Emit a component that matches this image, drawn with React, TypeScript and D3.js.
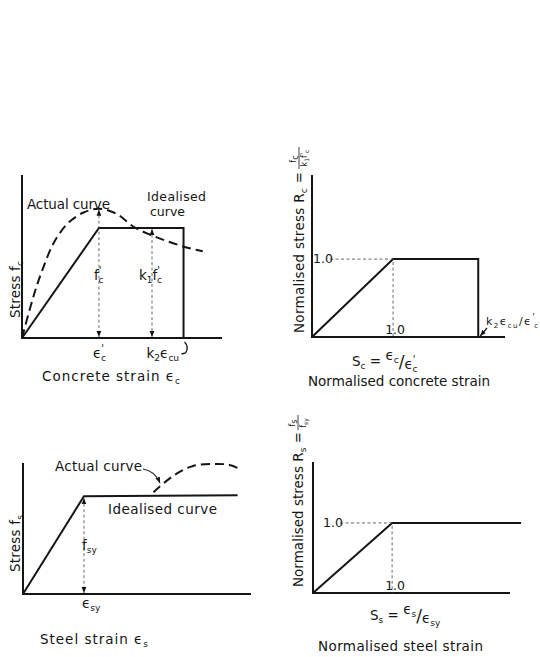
import * as d3 from 'd3'
import React from 'react'

// concrete: strain in units of eps'c, stress in units of f'c
const concreteActual: [number, number][] = [
  [0, 0], [0.1, 0.22], [0.19, 0.4], [0.28, 0.55], [0.39, 0.71], [0.49, 0.81], [0.62, 0.9],
  [0.8, 0.97], [1, 1], [1.23, 0.96], [1.45, 0.86], [1.66, 0.8], [1.88, 0.75], [2.14, 0.7], [2.35, 0.67],
]
const concreteIdeal: [number, number][] = [[0, 0], [1, 0.85], [2.1, 0.85], [2.1, 0]]
const concreteGuides = [{ x: 1, y: 1 }, { x: 1.69, y: 0.85 }]

// normalised concrete
const normConcrete: [number, number][] = [[0, 0], [1, 1], [2.05, 1], [2.05, 0]]

// steel: strain in units of eps_sy, stress in units of f_sy
const steelIdeal: [number, number][] = [[0, 0], [1, 1], [3.52, 1.01]]
const steelActual: [number, number][] = [
  [2.14, 1.04], [2.36, 1.16], [2.57, 1.25], [2.79, 1.31], [3.12, 1.33], [3.39, 1.32], [3.58, 1.27],
]

// normalised steel
const normSteel: [number, number][] = [[0, 0], [1, 1], [2.63, 1]]

const unitTick = 1
const unitLabel = '1.0'

const FONT = "'DejaVu Sans', sans-serif"
const INK = '#151515'

const cx = d3.scaleLinear().domain([0, 2.6]).range([22, 222])
const cy = d3.scaleLinear().domain([0, 1.26]).range([338, 175])
const sx = d3.scaleLinear().domain([0, 2.38]).range([312, 505])
const sy = d3.scaleLinear().domain([0, 2.08]).range([337, 175])
const tx = d3.scaleLinear().domain([0, 3.74]).range([23, 251])
const ty = d3.scaleLinear().domain([0, 1.34]).range([594, 463])
const nx = d3.scaleLinear().domain([0, 2.49]).range([313, 510])
const ny = d3.scaleLinear().domain([0, 1.87]).range([593, 462])

type Scale = d3.ScaleLinear<number, number>

const mkLine = (x: Scale, y: Scale, curve = d3.curveLinear) =>
  d3.line<[number, number]>().x((d) => x(d[0])).y((d) => y(d[1])).curve(curve)

const axes = (x: Scale, y: Scale) => {
  const [x0, x1] = x.domain()
  const [y0, y1] = y.domain()
  return `M${x(x0)},${y(y1)}V${y(y0)}H${x(x1)}`
}

const Sub = ({ children }: { children: React.ReactNode }) => (
  <tspan fontSize={9} dy={3}>{children}</tspan>
)
// raised prime followed by a subscript tucked under it
const PrimeSub = ({ s, up = 6 }: { s: string; up?: number }) => (
  <>
    <tspan fontSize={10} dy={-up}>'</tspan>
    <tspan fontSize={9} dx={-3} dy={up + 3}>{s}</tspan>
  </>
)

const App = () => {
  const solid = { fill: 'none', stroke: INK, strokeWidth: 2, strokeLinejoin: 'miter' as const }
  const dashed = { fill: 'none', stroke: INK, strokeWidth: 2, strokeDasharray: '9,5' }
  const guide = { fill: 'none', stroke: '#444', strokeWidth: 0.8, strokeDasharray: '3,2.5' }
  const fit = (n: number) => ({ textLength: n, lengthAdjust: 'spacing' as const })

  return (
    <svg
      width={540}
      height={657}
      style={{ position: 'absolute', left: 0, top: 0, background: '#fff' }}
      fontFamily={FONT}
      fontSize={13.5}
      fill={INK}
    >
      <defs>
        <marker id="ah" viewBox="0 0 10 10" refX={10} refY={5} markerWidth={6} markerHeight={6}
          markerUnits="userSpaceOnUse" orient="auto-start-reverse">
          <path d="M0,1L10,5L0,9z" fill={INK} />
        </marker>
      </defs>

      {/* ---------- concrete ---------- */}
      <path d={axes(cx, cy)} {...solid} />
      <path d={mkLine(cx, cy)(concreteIdeal)!} {...solid} />
      <path d={mkLine(cx, cy, d3.curveCatmullRom)(concreteActual)!} {...dashed} />
      {concreteGuides.map((g, i) => (
        <line key={i} x1={cx(g.x)} x2={cx(g.x)} y1={cy(g.y) + 1} y2={cy(0) - 1} {...guide}
          markerStart="url(#ah)" markerEnd="url(#ah)" />
      ))}
      <text x={27} y={209} {...fit(83)}>Actual curve</text>
      <text x={147} y={201} fontSize={12.5} {...fit(59)}>Idealised</text>
      <text x={150} y={216} fontSize={12.5} {...fit(35)}>curve</text>
      <text x={cx(1) - 5} y={cy(0.45)}>f<PrimeSub s="c" /></text>
      <text x={cx(1.69) - 13} y={cy(0.45)}>k<tspan fontSize={9} dy={3}>1</tspan><tspan dy={-3}>f</tspan><PrimeSub s="c" /></text>
      <text x={cx(unitTick) - 6} y={358}>ϵ<PrimeSub s="c" /></text>
      <text x={cx(2.1) - 37} y={358}>k<tspan fontSize={9} dy={3}>2</tspan><tspan dy={-3}>ϵ</tspan><Sub>cu</Sub></text>
      <path d={`M${cx(2.1) + 1},${cy(0) + 4}q5,5 1,11l-4,1`} fill="none" stroke={INK} strokeWidth={1.3} />
      <text x={42} y={381} {...fit(138)}>Concrete strain ϵ<Sub>c</Sub></text>
      <text transform="translate(20,318) rotate(-90)" {...fit(57)}>Stress f<Sub>c</Sub></text>

      {/* ---------- normalised concrete ---------- */}
      <path d={axes(sx, sy)} {...solid} />
      <path d={mkLine(sx, sy)(normConcrete)!} {...solid} />
      <path d={`M${sx(0) + 18},${sy(1)}H${sx(1)}V${sy(0)}`} {...guide} />
      <text x={sx(0) + 1} y={sy(unitTick) + 4} fontSize={12.5}>{unitLabel}</text>
      <text x={sx(unitTick) + 2} y={sy(0) - 3} fontSize={12.5} textAnchor="middle">{unitLabel}</text>
      <line x1={487} y1={328} x2={sx(2.05) + 2} y2={sy(0) - 1} stroke={INK} strokeWidth={1.2} markerEnd="url(#ah)" />
      <text x={486} y={325} fontSize={11} {...fit(52)}>k<tspan fontSize={7} dy={3}>2</tspan><tspan dy={-3}>ϵ</tspan><tspan fontSize={7} dy={3}>cu</tspan><tspan dy={-3}>/ϵ</tspan><tspan fontSize={9} dy={-5}>'</tspan><tspan fontSize={7} dx={-2} dy={8}>c</tspan></text>
      <text x={352} y={366}>S<Sub>c</Sub><tspan dy={-3}> = </tspan><tspan dy={-6}>ϵ</tspan><tspan fontSize={9} dy={3}>c</tspan><tspan fontSize={17} dy={5}>/</tspan><tspan dy={1}>ϵ</tspan><PrimeSub s="c" /></text>
      <text x={308} y={386} {...fit(182)}>Normalised concrete strain</text>
      <g transform="translate(304,333) rotate(-90)">
        <text x={0} y={0} {...fit(161)}>Normalised stress R<Sub>c</Sub><tspan dy={-3}> =</tspan></text>
        <text x={174} y={-8} fontSize={8} textAnchor="middle">f<tspan dy={2}>c</tspan></text>
        <line x1={164} x2={186} y1={-5} y2={-5} stroke={INK} strokeWidth={0.8} />
        <text x={175} y={3} fontSize={8} textAnchor="middle">k<tspan fontSize={6} dy={2}>1</tspan><tspan dy={-2}>f'</tspan><tspan fontSize={6} dy={2}>c</tspan></text>
      </g>

      {/* ---------- steel ---------- */}
      <path d={axes(tx, ty)} {...solid} />
      <path d={mkLine(tx, ty)(steelIdeal)!} {...solid} />
      <path d={mkLine(tx, ty, d3.curveCatmullRom)(steelActual)!} {...dashed} />
      <line x1={tx(1)} x2={tx(1)} y1={ty(1) + 2} y2={ty(0) - 1} {...guide} markerStart="url(#ah)" markerEnd="url(#ah)" />
      <text x={55} y={471} {...fit(87)}>Actual curve</text>
      <path d={`M143,469q12,2 17,14`} fill="none" stroke={INK} strokeWidth={1.2} markerEnd="url(#ah)" />
      <text x={108} y={514} {...fit(109)}>Idealised curve</text>
      <text x={tx(1) - 2} y={550}>f<tspan fontSize={9} dy={3}>sy</tspan></text>
      <text x={tx(unitTick) - 2} y={608}>ϵ<Sub>sy</Sub></text>
      <text x={40} y={644} {...fit(108)}>Steel strain ϵ<Sub>s</Sub></text>
      <text transform="translate(20,572) rotate(-90)" {...fit(57)}>Stress f<Sub>s</Sub></text>

      {/* ---------- normalised steel ---------- */}
      <path d={axes(nx, ny)} {...solid} />
      <path d={mkLine(nx, ny)(normSteel)!} {...solid} />
      <path d={`M${nx(0) + 27},${ny(1)}H${nx(1)}V${ny(0)}`} {...guide} />
      <text x={nx(0) + 10} y={ny(unitTick) + 4} fontSize={12.5}>{unitLabel}</text>
      <text x={nx(unitTick) + 3} y={ny(0) - 3} fontSize={12.5} textAnchor="middle">{unitLabel}</text>
      <text x={370} y={620}>S<Sub>s</Sub><tspan dy={-3}> = </tspan><tspan dy={-6}>ϵ</tspan><tspan fontSize={9} dy={3}>s</tspan><tspan fontSize={17} dy={5}>/</tspan><tspan dy={1}>ϵ</tspan><Sub>sy</Sub></text>
      <text x={318} y={651} {...fit(165)}>Normalised steel strain</text>
      <g transform="translate(303,587) rotate(-90)">
        <text x={0} y={0} {...fit(155)}>Normalised stress R<Sub>s</Sub><tspan dy={-3}> =</tspan></text>
        <text x={164} y={-8} fontSize={8} textAnchor="middle">f<tspan dy={2}>s</tspan></text>
        <line x1={157} x2={172} y1={-5} y2={-5} stroke={INK} strokeWidth={0.8} />
        <text x={164} y={3} fontSize={8} textAnchor="middle">f<tspan fontSize={6} dy={2}>sy</tspan></text>
      </g>
    </svg>
  )
}

export default App
